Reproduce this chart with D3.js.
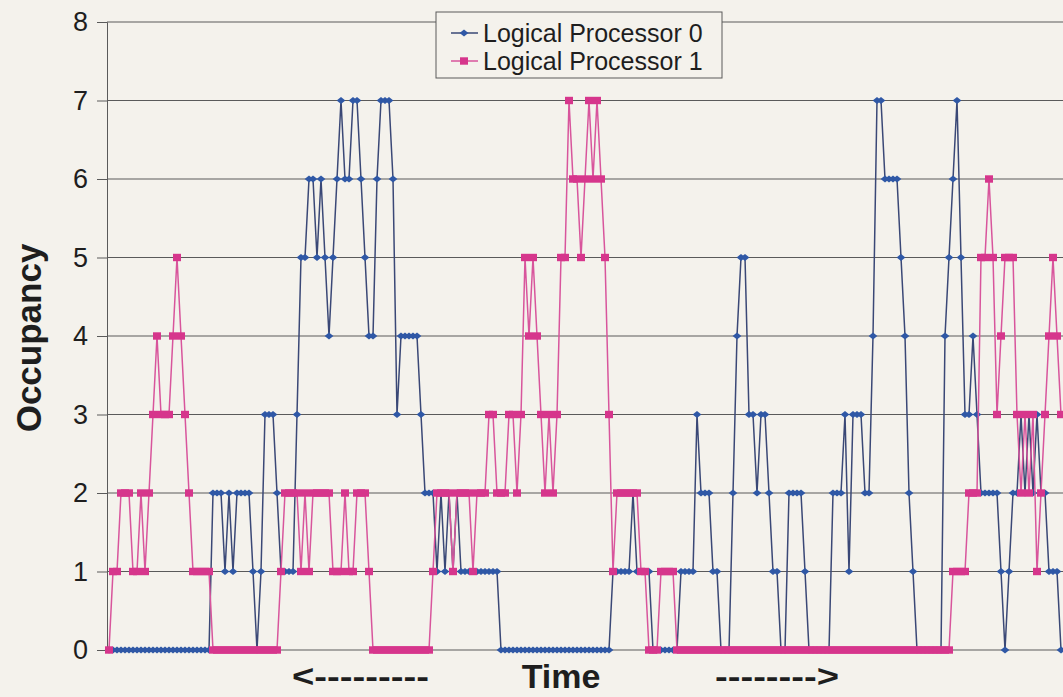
<!DOCTYPE html>
<html>
<head>
<meta charset="utf-8">
<script src="https://cdn.jsdelivr.net/npm/d3@7"></script>
<style>
body { margin: 0; background: #f4f2ec; }
svg { display: block; font-family: "Liberation Sans", Arial, sans-serif; }
</style>
</head>
<body>
<svg id="chart"></svg>
<script>
let width = 1063;
let height = 697;
let padding = {'left': 107, 'right': 0, 'top': 22, 'bottom': 47};

let seriesNames = ['Logical Processor 0', 'Logical Processor 1'];
let yTicks = [0, 1, 2, 3, 4, 5, 6, 7, 8];

// one value per sample, read left to right off the picture
let proc0 = [
    0,0,0,0,0,0,0,0,0,0,0,0,0,0,0,0,0,0,0,0,
    0,0,0,0,0,0,2,2,2,1,2,1,2,2,2,2,1,0,1,3,
    3,3,2,1,1,1,1,3,5,5,6,6,5,6,5,4,5,6,7,6,
    6,7,7,6,5,4,4,6,7,7,7,6,3,4,4,4,4,4,3,2,
    2,2,1,2,1,2,1,2,1,1,1,1,1,1,1,1,1,1,0,0,
    0,0,0,0,0,0,0,0,0,0,0,0,0,0,0,0,0,0,0,0,
    0,0,0,0,0,0,1,1,1,1,1,2,1,1,1,1,0,0,0,0,
    0,0,0,1,1,1,1,3,2,2,2,1,1,0,0,0,2,4,5,5,
    3,3,2,3,3,2,1,1,0,0,2,2,2,2,1,0,0,0,0,0,
    0,2,2,2,3,1,3,3,3,2,2,4,7,7,6,6,6,6,5,4,
    2,1,0,0,0,0,0,0,0,4,5,6,7,5,3,3,4,3,2,2,
    2,2,2,1,0,1,2,2,3,2,3,2,3,2,2,1,1,1,0
];
let proc1 = [
    0,1,1,2,2,2,1,1,2,1,2,3,4,3,3,3,4,5,4,3,
    2,1,1,1,1,1,0,0,0,0,0,0,0,0,0,0,0,0,0,0,
    0,0,0,1,2,2,2,2,1,2,1,2,2,2,2,2,1,1,1,2,
    1,1,2,2,2,1,0,0,0,0,0,0,0,0,0,0,0,0,0,0,
    0,1,2,2,2,2,1,2,2,2,2,1,2,2,2,3,3,2,2,2,
    3,3,2,3,5,4,5,4,3,2,3,2,3,5,5,7,6,6,5,6,
    7,6,7,6,5,3,1,2,2,2,2,2,2,1,1,0,0,0,1,1,
    1,1,0,0,0,0,0,0,0,0,0,0,0,0,0,0,0,0,0,0,
    0,0,0,0,0,0,0,0,0,0,0,0,0,0,0,0,0,0,0,0,
    0,0,0,0,0,0,0,0,0,0,0,0,0,0,0,0,0,0,0,0,
    0,0,0,0,0,0,0,0,0,0,0,1,1,1,1,2,2,2,5,5,
    6,5,3,4,5,5,5,3,2,3,2,3,1,2,3,4,5,4,3
];

let lineColors = ['#3a4876', '#d8559c'];
let markerColors = ['#2f58a6', '#d6368c'];

let svg, xScale, yScale;

function marker(sel, k) {
    if (k === 0) {
        sel.append('path')
            .attr('d', 'M0,-3.6L4.4,0L0,3.6L-4.4,0Z')
            .attr('fill', markerColors[0]);
    } else {
        sel.append('rect')
            .attr('x', -4).attr('y', -3.7)
            .attr('width', 8).attr('height', 7.4)
            .attr('fill', markerColors[1]);
    }
}

function draw() {
    xScale = d3.scaleLinear()
        .domain([0, proc0.length - 1])
        .range([109, 1061]);
    yScale = d3.scaleLinear()
        .domain([0, 8])
        .range([height - padding.bottom, padding.top]);

    // grid
    svg.append('g')
        .selectAll('line')
        .data(yTicks)
        .join('line')
        .attr('x1', padding.left)
        .attr('x2', width)
        .attr('y1', d => yScale(d))
        .attr('y2', d => yScale(d))
        .attr('stroke', '#5a5a5a')
        .attr('stroke-width', 1);

    // left axis
    let yAxis = svg.append('g')
        .attr('transform', `translate(${padding.left},0)`)
        .call(d3.axisLeft(yScale).tickValues(yTicks).tickSize(10).tickPadding(9).tickFormat(d3.format('d')));
    yAxis.select('.domain').attr('stroke', '#5a5a5a');
    yAxis.selectAll('.tick line').attr('stroke', '#5a5a5a');
    yAxis.selectAll('.tick text')
        .attr('font-size', 27)
        .attr('font-family', '"Liberation Sans", Arial, sans-serif')
        .attr('fill', '#1e1e1e');

    let line = d3.line()
        .x((d, i) => xScale(i))
        .y(d => yScale(d));

    [proc0, proc1].forEach((series, k) => {
        svg.append('path')
            .datum(series)
            .attr('d', line)
            .attr('fill', 'none')
            .attr('stroke', lineColors[k])
            .attr('stroke-width', 1.5);
        svg.append('g')
            .selectAll('g')
            .data(series)
            .join('g')
            .attr('transform', (d, i) => `translate(${xScale(i)},${yScale(d)})`)
            .each(function () { marker(d3.select(this), k); });
    });

    // legend
    let legend = svg.append('g');
    legend.append('rect')
        .attr('x', 436).attr('y', 12)
        .attr('width', 286).attr('height', 66)
        .attr('fill', '#f4f2ec')
        .attr('stroke', '#5a5a5a');
    seriesNames.forEach((name, k) => {
        let cy = 33 + k * 28;
        legend.append('line')
            .attr('x1', 451).attr('x2', 478)
            .attr('y1', cy).attr('y2', cy)
            .attr('stroke', lineColors[k])
            .attr('stroke-width', 1.5);
        legend.append('g')
            .attr('transform', `translate(464,${cy})`)
            .call(sel => marker(sel, k));
        legend.append('text')
            .attr('x', 483).attr('y', cy + 9)
            .attr('font-size', 25)
            .attr('fill', '#1e1e1e')
            .text(name);
    });

    // axis titles
    svg.append('text')
        .attr('transform', 'translate(41,338) rotate(-90)')
        .attr('text-anchor', 'middle')
        .attr('font-size', 35)
        .attr('font-weight', 'bold')
        .attr('fill', '#1e1e1e')
        .text('Occupancy');
    svg.append('text')
        .attr('x', 561).attr('y', 688)
        .attr('text-anchor', 'middle')
        .attr('font-size', 34)
        .attr('font-weight', 'bold')
        .attr('fill', '#1e1e1e')
        .text('Time');
    svg.append('text')
        .attr('x', 292).attr('y', 687)
        .attr('font-size', 32)
        .attr('font-weight', 'bold')
        .attr('textLength', 137)
        .attr('lengthAdjust', 'spacingAndGlyphs')
        .attr('fill', '#1e1e1e')
        .text('<---------');
    svg.append('text')
        .attr('x', 715).attr('y', 687)
        .attr('font-size', 32)
        .attr('font-weight', 'bold')
        .attr('textLength', 124)
        .attr('lengthAdjust', 'spacingAndGlyphs')
        .attr('fill', '#1e1e1e')
        .text('-------->');
}

function main() {
    svg = d3.select('#chart')
        .attr('width', width)
        .attr('height', height);
    draw();
}

main();
</script>
</body>
</html>
